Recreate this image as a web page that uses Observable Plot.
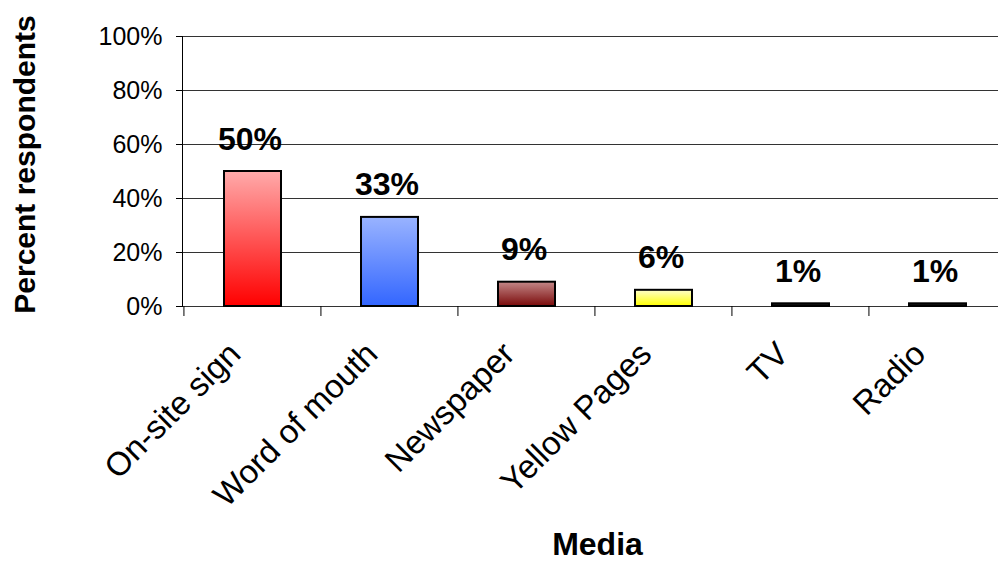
<!DOCTYPE html>
<html>
<head>
<meta charset="utf-8">
<script src="https://cdn.jsdelivr.net/npm/d3@7"></script>
<script src="https://cdn.jsdelivr.net/npm/@observablehq/plot@0.6"></script>
<style>
  html, body { margin: 0; padding: 0; background: #fff; }
  #chart svg { display: block; }
</style>
</head>
<body>
<div id="chart"></div>
<script>
const categories = ["On-site sign", "Word of mouth", "Newspaper", "Yellow Pages", "TV", "Radio"];
const values = [50, 33, 9, 6, 1, 1];
const yTicks = [0, 20, 40, 60, 80, 100];
const xTitle = "Media";
const yTitle = "Percent respondents";

// gradient palette (top colour, bottom colour) per bar
const gradTop = ["#ffaaaa", "#99b3ff", "#c48888", "#ffffcc", "#222222", "#222222"];
const gradBottom = ["#ff0000", "#3366ff", "#7a0a0a", "#ffff00", "#000000", "#000000"];

const data = categories.map((c, i) => ({category: c, value: values[i], idx: i}));
const font = "'Liberation Sans', Arial, Helvetica, sans-serif";

const gradientDefs = () => {
  const defs = d3.create("svg:defs");
  gradTop.forEach((top, i) => {
    const g = defs.append("linearGradient")
      .attr("id", "barGrad" + i)
      .attr("x1", 0).attr("y1", 0).attr("x2", 0).attr("y2", 1);
    g.append("stop").attr("offset", "0%").attr("stop-color", top);
    g.append("stop").attr("offset", "100%").attr("stop-color", gradBottom[i]);
  });
  return defs.node();
};

// band-boundary tick marks below the x axis, placed with the x scale
const bandTicks = (index, scales, values, dims) => {
  const x = scales.x;
  const step = x.step ? x.step() : (dims.width - dims.marginLeft - dims.marginRight) / categories.length;
  const pi = x.paddingInner ? x.paddingInner() : 0.585;
  const y0 = scales.y(0);
  const g = d3.create("svg:g").attr("stroke", "#000").attr("stroke-width", 1);
  const xs = categories.map(c => x(c) - step * pi / 2);
  xs.push(xs[xs.length - 1] + step);
  xs.forEach(px => {
    g.append("line").attr("x1", px).attr("x2", px).attr("y1", y0).attr("y2", y0 + 10);
  });
  return g.node();
};

const chart = Plot.plot({
  width: 998,
  height: 563,
  marginTop: 36,
  marginBottom: 257,
  marginLeft: 182,
  marginRight: 0,
  style: {fontFamily: font, background: "#fff", color: "#000", overflow: "visible"},
  x: {domain: categories, range: [182, 1008], paddingInner: 0.585, paddingOuter: 0.2925, axis: null},
  y: {domain: [0, 100], axis: null},
  color: {type: "identity"},
  marks: [
    gradientDefs,
    Plot.gridY(yTicks, {stroke: "#333", strokeOpacity: 1, strokeWidth: 1}),
    Plot.axisY(yTicks, {
      tickSize: 6,
      tickPadding: 14,
      tickFormat: d => d + "%",
      fontSize: 25,
      stroke: "#000",
      label: null
    }),
    Plot.frame({anchor: "left", stroke: "#000"}),
    bandTicks,
    Plot.barY(data, {
      x: "category",
      y: "value",
      fill: d => "url(#barGrad" + d.idx + ")",
      stroke: "#000",
      strokeWidth: 2
    }),
    Plot.text(data, {
      x: "category",
      y: "value",
      text: d => d.value + "%",
      fontSize: 32,
      fontWeight: "bold",
      lineAnchor: "bottom",
      dx: -3,
      dy: -22,
      fill: "#000"
    }),
    Plot.text(categories, {
      x: d => d,
      frameAnchor: "bottom",
      rotate: -45,
      textAnchor: "end",
      lineAnchor: "middle",
      fontSize: 33,
      dx: -18,
      dy: 42,
      fill: "#000"
    }),
    Plot.text([xTitle], {
      frameAnchor: "bottom",
      lineAnchor: "bottom",
      fontSize: 32,
      fontWeight: "bold",
      dx: 7,
      dy: 248,
      fill: "#000"
    }),
    Plot.text([yTitle], {
      frameAnchor: "left",
      rotate: -90,
      textAnchor: "middle",
      lineAnchor: "bottom",
      fontSize: 30,
      fontWeight: "bold",
      dx: -148,
      dy: -7,
      fill: "#000"
    })
  ]
});

document.getElementById("chart").appendChild(chart);
</script>
</body>
</html>
